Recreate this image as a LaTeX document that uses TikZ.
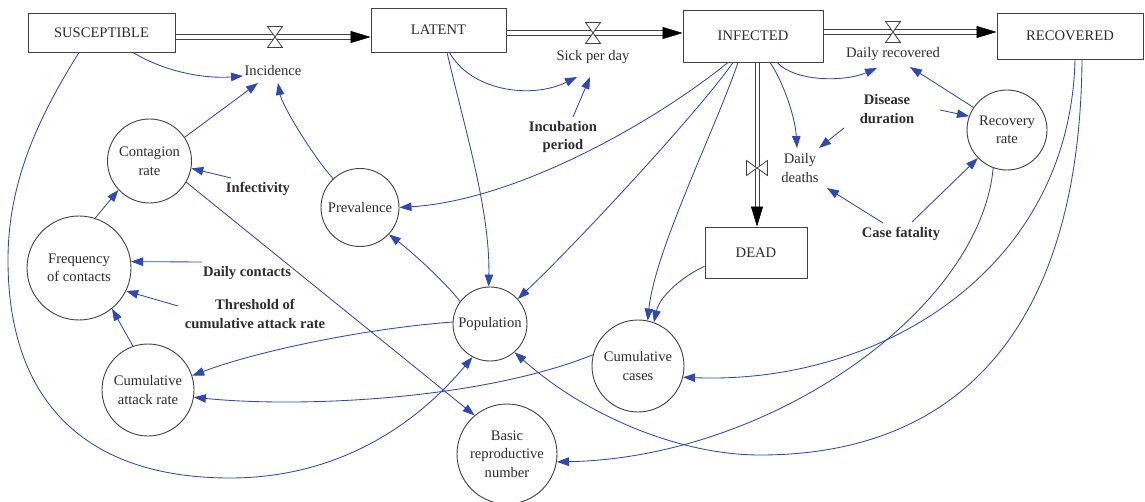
\documentclass[tikz,border=0pt]{standalone}
\usepackage{fontspec}
\setmainfont{Liberation Serif}
\usetikzlibrary{arrows.meta,calc}
\definecolor{lnk}{RGB}{48,72,178}
\definecolor{ink}{RGB}{45,45,45}
\definecolor{edge}{RGB}{65,65,65}
\tikzset{
  stock/.style={draw=edge, line width=0.9pt, rectangle, inner sep=0pt, fill=white},
  aux/.style={draw=edge, line width=0.9pt, circle, inner sep=0pt, align=center, fill=white},
  lbl/.style={inner sep=2pt, align=center},
  cst/.style={lbl, font=\fontsize{14.6}{18.5}\selectfont\bfseries},
  link/.style={draw=lnk, line width=0.85pt, -{Triangle[length=12pt,width=8.5pt]}},
  pipeline/.style={draw=edge, line width=0.8pt},
  flowtip/.style={draw=black, line width=0.5pt, -{Triangle[length=20pt,width=12pt]}},
  valve/.pic={\draw[edge, fill=white, line width=0.8pt] (-7.5,-10.5) -- (7.5,-10.5) -- (-7.5,10.5) -- (7.5,10.5) -- cycle;}
}
\begin{document}
\begin{tikzpicture}[x=1pt,y=-1pt,font=\fontsize{14.6}{18.5}\selectfont,text=ink]
\useasboundingbox (0,0) rectangle (1145,502);

% stocks
\node[stock, minimum width=147pt, minimum height=39pt] (S) at (101.5,32.5) {SUSCEPTIBLE};
\node[stock, minimum width=135pt, minimum height=44pt] (L) at (438.5,30) {LATENT};
\node[stock, minimum width=140pt, minimum height=52pt] (I) at (753,36) {INFECTED};
\node[stock, minimum width=146pt, minimum height=46pt] (R) at (1070,36) {RECOVERED};
\node[stock, minimum width=102pt, minimum height=51pt] (D) at (756,252.5) {DEAD};

% valves
\coordinate (v1) at (275,37);
\coordinate (v2) at (593,33);
\coordinate (v3) at (893,32);
\coordinate (v4) at (757,168);

% flows (double pipes)
\draw[pipeline] ($(S.east |- v1)+(0,-2.1)$) -- ($(L.west |- v1)+(-19,-2.1)$);
\draw[pipeline] ($(S.east |- v1)+(0,2.1)$) -- ($(L.west |- v1)+(-19,2.1)$);
\draw[flowtip] ($(L.west |- v1)+(-20,0)$) -- (L.west |- v1);
\draw[pipeline] ($(L.east |- v2)+(0,-2.1)$) -- ($(I.west |- v2)+(-19,-2.1)$);
\draw[pipeline] ($(L.east |- v2)+(0,2.1)$) -- ($(I.west |- v2)+(-19,2.1)$);
\draw[flowtip] ($(I.west |- v2)+(-20,0)$) -- (I.west |- v2);
\draw[pipeline] ($(I.east |- v3)+(0,-2.1)$) -- ($(R.west |- v3)+(-19,-2.1)$);
\draw[pipeline] ($(I.east |- v3)+(0,2.1)$) -- ($(R.west |- v3)+(-19,2.1)$);
\draw[flowtip] ($(R.west |- v3)+(-20,0)$) -- (R.west |- v3);
\draw[pipeline] ($(I.south -| v4)+(-2.1,0)$) -- ($(D.north -| v4)+(-2.1,-19)$);
\draw[pipeline] ($(I.south -| v4)+(2.1,0)$) -- ($(D.north -| v4)+(2.1,-19)$);
\draw[flowtip] ($(D.north -| v4)+(0,-20)$) -- (D.north -| v4);
\pic at (v1) {valve};
\pic at (v2) {valve};
\pic at (v3) {valve};
\pic[rotate=90] at (v4) {valve};

% auxiliaries
\node[aux, minimum size=84pt] (cr) at (149.5,161) {Contagion\\rate};
\node[aux, minimum size=104pt] (fc) at (79,268) {Frequency\\of contacts};
\node[aux, minimum size=92pt] (car) at (148,390) {Cumulative\\attack rate};
\node[aux, minimum size=78pt] (pv) at (360,207.5) {Prevalence};
\node[aux, minimum size=74pt] (pop) at (490,324) {Population};
\node[aux, minimum size=92pt] (cc) at (638,366) {Cumulative\\cases};
\node[aux, minimum size=100pt] (brn) at (507,454) {Basic\\reproductive\\number};
\node[aux, minimum size=80pt] (rr) at (1007,130) {Recovery\\rate};

% rate labels
\node[lbl] (inc) at (273,71) {Incidence};
\node[lbl] (spd) at (593,57) {Sick per day};
\node[lbl] (drc) at (893,54) {Daily recovered};
\node[lbl] (dd) at (800,168) {Daily\\deaths};

% constants
\node[cst] (inf) at (258,189) {Infectivity};
\node[cst] (incp) at (563,137) {Incubation\\period};
\node[cst] (dis) at (887,109) {Disease\\duration};
\node[cst] (cf) at (901,234) {Case fatality};
\node[cst] (dc) at (247,273) {Daily contacts};
\node[cst] (thr) at (255,314) {Threshold of\\cumulative attack rate};

% links
\draw[link] ([shift={(31.5,0)}]S.south) .. controls (165,72) and (205,79) .. ([shift={(-30,5)}]inc.center);
\draw[link] (cr.34) -- ([shift={(-15,12)}]inc.center);
\draw[link] (pv.133) .. controls (312,155) and (282,105) .. ([shift={(5,12)}]inc.center);
\draw[link] ([shift={(-27,-11)}]inf.center) -- (cr.-10);
\draw[link] (cr.-30) -- (brn.130);
\draw[link] (fc.72) -- (cr.-137);
\draw[link] ([shift={(-45,-11)}]dc.center) -- (fc.7);
\draw[link] ([shift={(-77,-8)}]thr.center) -- (fc.-26);
\draw[link] (car.109) -- (fc.-51);
\draw[link] (pop.177) .. controls (370,328) and (260,350) .. (car.18);
\draw[link] (cc.166) .. controls (480,400) and (300,408) .. (car.-9);
\draw[link] ([shift={(-22.5,0)}]S.south) .. controls (40,115) and (8,180) .. (8,260)
   .. controls (8,402) and (86,478) .. (230,478) .. controls (330,478) and (410,432) .. (pop.-118);
\draw[link] ([shift={(8.5,0)}]L.south) .. controls (465,130) and (490,210) .. (pop.92);
\draw[link] ([shift={(11,0)}]L.south) .. controls (470,90) and (530,100) .. ([shift={(-16,20)}]spd.center);
\draw[link] ([shift={(10,-20)}]incp.center) -- ([shift={(-3,20)}]spd.center);
\draw[link] ([shift={(-25,0)}]I.south) .. controls (660,118) and (520,200) .. (pv.0);
\draw[link] ([shift={(-20,0)}]I.south) .. controls (700,110) and (580,240) .. (pop.42);
\draw[link] ([shift={(-15,0)}]I.south) .. controls (715,130) and (655,250) .. (cc.78);
\draw[link] (D.195) .. controls (685,275) and (660,295) .. (cc.70);
\draw[link] ([shift={(24,0)}]I.south) .. controls (795,82) and (845,82) .. ([shift={(-16,14)}]drc.center);
\draw[link] ([shift={(17,0)}]I.south) .. controls (782,80) and (795,115) .. ([shift={(-3,-20)}]dd.center);
\draw[link] ([shift={(-43,19)}]dis.center) -- ([shift={(19,-20)}]dd.center);
\draw[link] ([shift={(53,1)}]dis.center) -- (rr.160);
\draw[link] (rr.146) -- ([shift={(17,13)}]drc.center);
\draw[link] ([shift={(-18,-11)}]cf.center) -- ([shift={(27,20)}]dd.center);
\draw[link] ([shift={(11,-12)}]cf.center) -- (rr.-136);
\draw[link] (rr.-110) .. controls (980,310) and (770,458) .. (brn.-9);
\draw[link] ([shift={(5,0)}]R.south) .. controls (1070,270) and (880,385) .. (cc.-14);
\draw[link] ([shift={(12,0)}]R.south) .. controls (1080,316) and (969,455) .. (760,455)
   .. controls (680,455) and (586,416) .. (pop.-49);
\draw[link] (pop.143) .. controls (445,282) and (412,252) .. (pv.-43);
\end{tikzpicture}
\end{document}
